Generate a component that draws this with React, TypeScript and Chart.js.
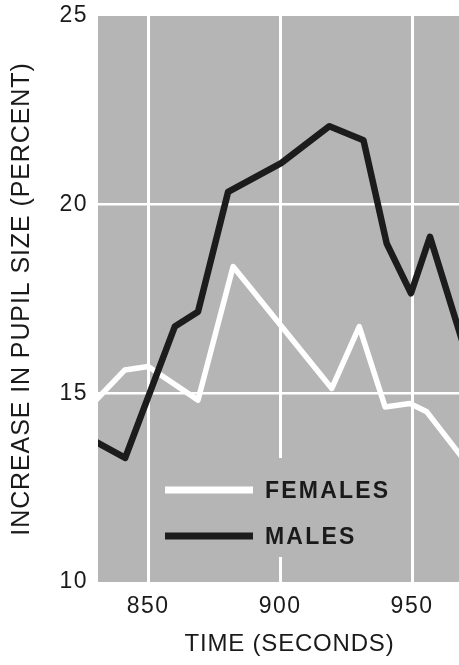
import { useEffect, useRef } from 'react';
import { Chart, registerables } from 'chart.js';

Chart.register(...registerables);

// ---- Data ----
const femaleTimes = [829, 841.2, 850, 868.9, 882.2, 919.6, 930, 939.8, 949.2, 955.6, 970];
const femaleValues = [14.73, 15.62, 15.71, 14.82, 18.36, 15.13, 16.77, 14.64, 14.73, 14.51, 13.21];
const maleTimes = [829, 841.3, 860.1, 868.9, 880.3, 900.4, 918.7, 931.6, 940.4, 949.6, 956.8, 970];
const maleValues = [13.76, 13.29, 16.77, 17.16, 20.34, 21.1, 22.08, 21.71, 18.97, 17.65, 19.15, 16.17];
const xTickValues = [850, 900, 950];
const yTickValues = [10, 15, 20, 25];
const seriesLabels = ['FEMALES', 'MALES'];
const xTitle = 'TIME (SECONDS)';
const yTitle = 'INCREASE IN PUPIL SIZE (PERCENT)';

const PLOT_BG = '#b5b5b5';
const TEXT = '#1a1a1a';
const FONT = "'Liberation Sans', Arial, sans-serif";

const spacing: Record<string, { title: string; labels: string; titleShift: number }> = {
  x: { title: '0.8px', labels: '1.5px', titleShift: 11 },
  y: { title: '0.9px', labels: '1.5px', titleShift: 0 },
};

const spacingPlugin = {
  id: 'letterSpacing',
  beforeDraw(chart: any) {
    for (const id of Object.keys(chart.scales)) {
      const s: any = chart.scales[id];
      if (s.__spaced || !spacing[id]) continue;
      s.__spaced = true;
      const cfg = spacing[id];
      const origTitle = s.drawTitle.bind(s);
      const origLabels = s.drawLabels.bind(s);
      s.drawTitle = () => {
        const ctx = chart.ctx;
        ctx.save();
        ctx.letterSpacing = cfg.title;
        ctx.translate(cfg.titleShift, 0);
        origTitle();
        ctx.restore();
      };
      s.drawLabels = (area: any) => {
        const ctx = chart.ctx;
        ctx.save();
        ctx.letterSpacing = cfg.labels;
        origLabels(area);
        ctx.restore();
      };
    }
  },
};

const bgPlugin = {
  id: 'plotBackground',
  beforeDraw(chart: any) {
    const { ctx, chartArea } = chart;
    ctx.save();
    ctx.fillStyle = PLOT_BG;
    ctx.fillRect(chartArea.left, chartArea.top, chartArea.right - chartArea.left, chartArea.bottom - chartArea.top);
    ctx.restore();
  },
};

const legendPlugin = {
  id: 'insetLegend',
  afterDatasetsDraw(chart: any) {
    const { ctx, chartArea } = chart;
    const L = chartArea.left;
    const B = chartArea.bottom;
    ctx.save();
    ctx.fillStyle = PLOT_BG;
    ctx.fillRect(L + 58, B - 124, 242, 99);
    const rows = [B - 92, B - 46];
    const baselines = [B - 84, B - 38];
    chart.data.datasets.forEach((ds: any, i: number) => {
      ctx.strokeStyle = ds.borderColor;
      ctx.lineWidth = 7;
      ctx.lineCap = 'butt';
      ctx.beginPath();
      ctx.moveTo(L + 67, rows[i]);
      ctx.lineTo(L + 155, rows[i]);
      ctx.stroke();
      ctx.fillStyle = TEXT;
      ctx.font = `bold 23px ${FONT}`;
      (ctx as any).letterSpacing = '2.2px';
      ctx.textAlign = 'left';
      ctx.textBaseline = 'alphabetic';
      ctx.fillText(ds.label, L + 167, baselines[i]);
      (ctx as any).letterSpacing = '0px';
    });
    ctx.restore();
  },
};

export default function App() {
  const ref = useRef<HTMLCanvasElement | null>(null);

  useEffect(() => {
    if (!ref.current) return;
    const chart = new Chart(ref.current, {
      type: 'line',
      data: {
        datasets: [
          {
            label: seriesLabels[0],
            data: femaleTimes.map((t, i) => ({ x: t, y: femaleValues[i] })),
            borderColor: '#ffffff',
            borderWidth: 5.5,
            pointRadius: 0,
            borderJoinStyle: 'round',
            tension: 0,
            clip: 0,
            order: 1,
          },
          {
            label: seriesLabels[1],
            data: maleTimes.map((t, i) => ({ x: t, y: maleValues[i] })),
            borderColor: '#1c1c1c',
            borderWidth: 6.5,
            pointRadius: 0,
            borderJoinStyle: 'round',
            tension: 0,
            clip: 0,
            order: 0,
          },
        ],
      },
      options: {
        animation: false,
        responsive: true,
        maintainAspectRatio: false,
        layout: { padding: { top: 16, right: 0, left: 0, bottom: 0 } },
        plugins: { legend: { display: false }, tooltip: { enabled: false } },
        scales: {
          x: {
            type: 'linear',
            min: 831,
            max: 967.8,
            afterFit: (s: any) => { s.height = 83; s.paddingLeft = 0; s.paddingRight = 0; },
            afterBuildTicks: (s: any) => { s.ticks = xTickValues.map((v) => ({ value: v })); },
            grid: { color: '#ffffff', lineWidth: 3, drawTicks: false },
            border: { display: false },
            ticks: { color: TEXT, font: { family: FONT, size: 23 }, padding: 11, maxRotation: 0, autoSkip: false },
            title: { display: true, text: xTitle, color: TEXT, font: { family: FONT, size: 24 }, padding: { top: 0, bottom: 6 } },
          },
          y: {
            type: 'linear',
            min: 10,
            max: 25,
            afterFit: (s: any) => { s.width = 98; s.paddingTop = 0; s.paddingBottom = 0; },
            afterBuildTicks: (s: any) => { s.ticks = yTickValues.map((v) => ({ value: v })); },
            grid: {
              color: (c: any) => (c.tick && (c.tick.value === 15 || c.tick.value === 20) ? '#ffffff' : 'rgba(0,0,0,0)'),
              lineWidth: 2.5,
              drawTicks: false,
            },
            border: { display: false },
            ticks: { color: TEXT, font: { family: FONT, size: 23 }, padding: 10, autoSkip: false },
            title: { display: true, text: yTitle, color: TEXT, font: { family: FONT, size: 25 }, padding: { top: 7, bottom: 0 } },
          },
        },
      },
      plugins: [bgPlugin, spacingPlugin, legendPlugin],
    } as any);
    return () => chart.destroy();
  }, []);

  return (
    <div style={{ position: 'fixed', left: 0, top: 0, width: 459, height: 665, background: '#ffffff' }}>
      <canvas ref={ref} />
    </div>
  );
}
